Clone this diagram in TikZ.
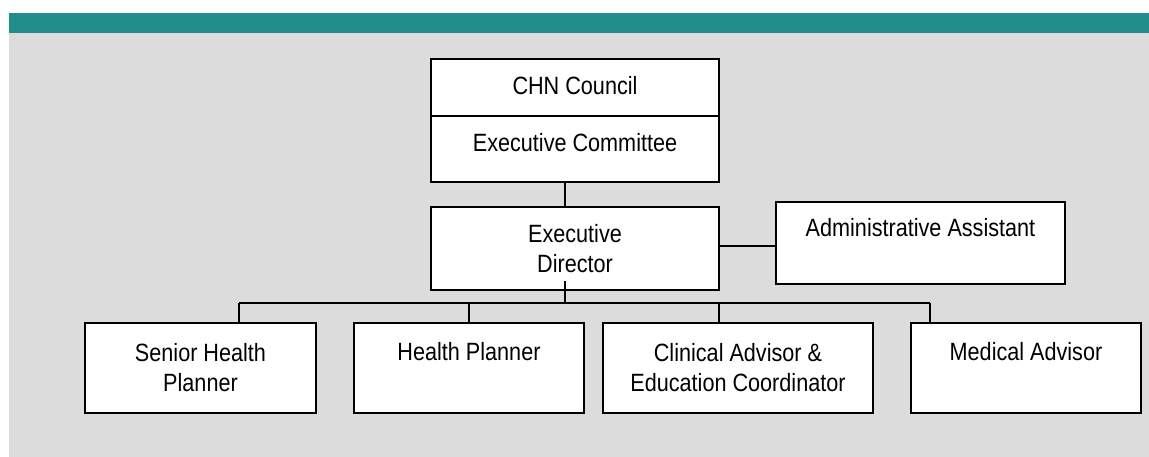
\documentclass[tikz,border=0pt]{standalone}
\usepackage{fontspec}
\setmainfont{Liberation Sans}[FakeStretch=0.865]
\usetikzlibrary{calc}
\definecolor{bandteal}{RGB}{34,142,140}
\definecolor{panelgray}{RGB}{220,220,220}
\begin{document}
\begin{tikzpicture}[x=1pt,y=1pt,
  orgbox/.style={draw=black, line width=1.8pt, fill=white, inner sep=0pt,
    align=center, font=\fontsize{25}{30}\selectfont},
  link/.style={draw=black, line width=1.5pt}]
  % page, header band and panel
  \useasboundingbox (0,0) rectangle (1149,-457);
  \fill[white] (0,0) rectangle (1149,-457);
  \fill[panelgray] (9,-33) rectangle (1149,-457);
  \fill[bandteal] (9,-13) rectangle (1149,-33);

  % top governance box, split in two
  \node[orgbox, minimum width=288, minimum height=57, text height=27.5, text depth=12.5]
    (council) at (575,-87.5) {CHN Council};
  \node[orgbox, minimum width=288, minimum height=66, text height=23, text depth=17]
    (committee) at (575,-149) {Executive Committee};

  % director and assistant
  \node[orgbox, minimum width=288, minimum height=83] (director) at (575,-248.5)
    {Executive\\Director};
  \node[orgbox, minimum width=289, minimum height=82, text height=14, text depth=26]
    (assistant) at (920.5,-243) {Administrative Assistant};

  % staff row
  \node[orgbox, minimum width=231, minimum height=90] (senior) at (200.5,-368)
    {Senior Health\\Planner};
  \node[orgbox, minimum width=230, minimum height=90, text height=12, text depth=28]
    (planner) at (469,-368) {Health Planner};
  \node[orgbox, minimum width=270, minimum height=90] (clinical) at (738,-368)
    {Clinical Advisor \&\\Education Coordinator};
  \node[orgbox, minimum width=230, minimum height=90, text height=12, text depth=28]
    (medical) at (1026,-368) {Medical Advisor};

  % reference points for the connector grid
  \coordinate (spine) at (565,-303);
  \coordinate (side) at (0,-246);
  \coordinate (d1) at (239,-303);
  \coordinate (d2) at (469,-303);
  \coordinate (d3) at (719,-303);
  \coordinate (d4) at (930,-303);

  % connectors
  \draw[link] (committee.south -| spine) -- (director.north -| spine);
  \draw[link] ($(director.south -| spine)+(0,10)$) -- (spine);
  \draw[link] (director.east |- side) -- (assistant.west |- side);
  \draw[link] (d1) -- (d4);
  \draw[link] (d1) -- (d1 |- senior.north);
  \draw[link] (d2) -- (d2 |- planner.north);
  \draw[link] (d3) -- (d3 |- clinical.north);
  \draw[link] (d4) -- (d4 |- medical.north);
\end{tikzpicture}
\end{document}
